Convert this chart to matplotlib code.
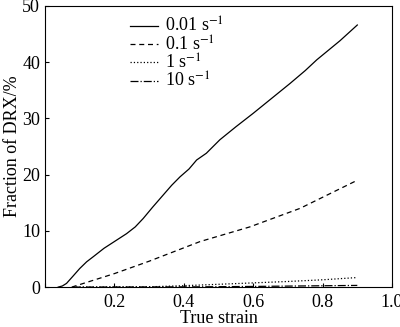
import numpy as np
import matplotlib.pyplot as plt

plt.rcParams['font.family'] = ['Liberation Serif', 'DejaVu Serif']
plt.rcParams['mathtext.fontset'] = 'stix'

# values
strain_a = [0.038, 0.05, 0.062, 0.08, 0.10, 0.12, 0.139, 0.17, 0.20, 0.235,
            0.26, 0.283, 0.31, 0.341, 0.365, 0.389, 0.415, 0.437, 0.465,
            0.504, 0.55, 0.60, 0.65, 0.706, 0.75, 0.783, 0.85, 0.90]
drx_a = [0.0, 0.2, 0.66, 1.9, 3.3, 4.5, 5.4, 6.9, 8.1, 9.5,
         10.7, 12.2, 14.2, 16.4, 18.1, 19.6, 21.0, 22.6, 23.8,
         26.2, 28.5, 30.9, 33.4, 36.2, 38.5, 40.4, 43.8, 46.6]

strain_b = [0.077, 0.2, 0.3, 0.447, 0.59, 0.735, 0.9]
drx_b = [0.0, 2.4, 4.6, 8.1, 10.7, 14.0, 19.0]

strain_c = [0.08, 0.30, 0.4, 0.5, 0.6, 0.7, 0.8, 0.9]
drx_c = [0.0, 0.05, 0.25, 0.5, 0.75, 1.0, 1.3, 1.7]

strain_d = [0.08, 0.45, 0.6, 0.7, 0.8, 0.9]
drx_d = [0.0, 0.05, 0.12, 0.18, 0.24, 0.3]

labels = ['0.01 s$^{-1}$', '0.1 s$^{-1}$', '1 s$^{-1}$', '10 s$^{-1}$']

fig = plt.figure(figsize=(4, 3.27), dpi=100)
ax = fig.add_axes([0.1125, 0.122, 0.8675, 0.86])

ax.plot(strain_a, drx_a, 'k-', lw=0.9, label=labels[0])
ax.plot(strain_b, drx_b, 'k--', lw=0.9, dashes=(4, 3), label=labels[1])
ax.plot(strain_c, drx_c, 'k:', lw=0.9, label=labels[2])
ax.plot(strain_d, drx_d, 'k-.', lw=0.9, label=labels[3])

ax.set_xlim(0, 1.0)
ax.set_ylim(0, 50)
ax.set_xticks([0, 0.2, 0.4, 0.6, 0.8, 1.0])
ax.set_xticklabels(['', '0.2', '0.4', '0.6', '0.8', '1.0'])
ax.set_yticks([0, 10, 20, 30, 40, 50])
ax.tick_params(direction='in', length=3, labelsize=13, width=0.8)
ax.tick_params(axis='x', pad=5)
ax.set_xlabel('True strain', fontsize=13, labelpad=-1)
ax.set_ylabel('Fraction of DRX/%', fontsize=13, labelpad=1)

ax.legend(loc='upper left', bbox_to_anchor=(0.245, 0.96), frameon=False,
          fontsize=13, handlelength=1.55, labelspacing=-0.05, handletextpad=0.4,
          borderaxespad=0, borderpad=0)

plt.savefig('out.png')
